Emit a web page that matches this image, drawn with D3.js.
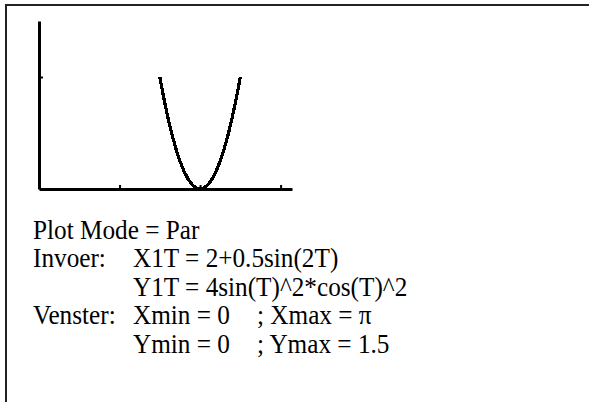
<!DOCTYPE html>
<html>
<head>
<meta charset="utf-8">
<script src="https://cdn.jsdelivr.net/npm/d3@7"></script>
<style>
  html, body { margin: 0; padding: 0; background: #fff; }
  svg { display: block; }
  .note { font-family: "Liberation Serif", "Times New Roman", serif; font-size: 27px; fill: #000; }
</style>
</head>
<body>
<svg id="chart" width="589" height="402"></svg>
<script>
// Parametric curve X1T = 2+0.5sin(2T), Y1T = 4sin(T)^2*cos(T)^2 as plotted
const curveX = [1.5, 1.55, 1.6, 1.65, 1.7, 1.75, 1.8, 1.85, 1.9, 1.95, 2.0,
                2.05, 2.1, 2.15, 2.2, 2.25, 2.3, 2.35, 2.4, 2.45, 2.5];
const curveY = [1.0, 0.81, 0.64, 0.49, 0.36, 0.25, 0.16, 0.09, 0.04, 0.01, 0.0,
                0.01, 0.04, 0.09, 0.16, 0.25, 0.36, 0.49, 0.64, 0.81, 1.0];

// Window settings
const xDomain = [0, Math.PI];
const yDomain = [0, 1.5];
const xTicks = [1, 2, 3];
const yTicks = [1];

// Caption lines: label column, formula column, limit column
const noteLabels = ["Plot Mode = Par", "Invoer:", "", "Venster:", ""];
const noteFormulas = ["", "X1T = 2+0.5sin(2T)", "Y1T = 4sin(T)^2*cos(T)^2", "Xmin = 0", "Ymin = 0"];
const noteLimits = ["", "", "", "; Xmax = \u03c0", "; Ymax = 1.5"];

const svg = d3.select("#chart");

// frame lines (top and left)
svg.append("line").attr("x1", 6).attr("x2", 589).attr("y1", 5).attr("y2", 5)
  .attr("stroke", "#222").attr("stroke-width", 2);
svg.append("line").attr("x1", 6).attr("x2", 6).attr("y1", 4).attr("y2", 402)
  .attr("stroke", "#222").attr("stroke-width", 2);

const x = d3.scaleLinear().domain(xDomain).range([39, 292]);
const y = d3.scaleLinear().domain(yDomain).range([189, 21]);

const plot = svg.append("g");

// x axis with small upward ticks
const xAxis = plot.append("g").attr("transform", `translate(0,${y(0)})`)
  .call(d3.axisBottom(x).tickValues(xTicks).tickSizeInner(-4).tickSizeOuter(0).tickFormat(""));
xAxis.select(".domain").attr("stroke", "#000").attr("stroke-width", 3);
xAxis.selectAll(".tick line").attr("stroke", "#000").attr("stroke-width", 2);

// y axis with small inward ticks
const yAxis = plot.append("g").attr("transform", `translate(${x(0)},0)`)
  .call(d3.axisLeft(y).tickValues(yTicks).tickSizeInner(-4).tickSizeOuter(0).tickFormat(""));
yAxis.select(".domain").attr("stroke", "#000").attr("stroke-width", 3);
yAxis.selectAll(".tick line").attr("stroke", "#000").attr("stroke-width", 2);

// the curve
const pts = curveX.map((v, i) => [v, curveY[i]]);
plot.append("path")
  .datum(pts)
  .attr("fill", "none")
  .attr("stroke", "#000")
  .attr("stroke-width", 3.2)
  .attr("shape-rendering", "crispEdges")
  .attr("d", d3.line().x(d => x(d[0])).y(d => y(d[1])));

// caption, slightly condensed serif
const sx = 0.935;
const rowY = [239, 267.5, 296, 324.5, 353];
const note = svg.append("g").attr("class", "note").attr("transform", `scale(${sx},1)`);
rowY.forEach((ry, i) => {
  if (noteLabels[i]) note.append("text").attr("x", 33 / sx).attr("y", ry).text(noteLabels[i]);
  if (noteFormulas[i]) note.append("text").attr("x", 133 / sx).attr("y", ry).text(noteFormulas[i]);
  if (noteLimits[i]) note.append("text").attr("x", 257 / sx).attr("y", ry).text(noteLimits[i]);
});
</script>
</body>
</html>
